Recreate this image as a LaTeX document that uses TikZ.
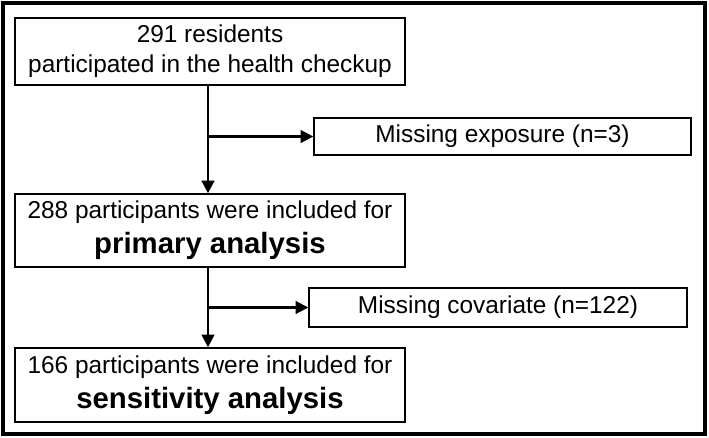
\documentclass[tikz,border=0pt]{standalone}
\usepackage{fontspec}
\setmainfont{Liberation Sans}
\usetikzlibrary{arrows.meta}
\tikzset{
  flowbox/.style={draw,line width=1.1pt,rectangle,align=center,inner sep=0pt,font=\fontsize{18.3}{22.5}\selectfont},
  flowline/.style={line width=1.6pt,-{Triangle[length=9.5pt,width=9.5pt]}}
}
\newcommand{\bigbold}[1]{{\fontsize{22}{24}\selectfont\bfseries #1}}
\begin{document}
\begin{tikzpicture}[x=0.75pt,y=-0.75pt]
\useasboundingbox (0,0) rectangle (709,437);
\draw[line width=2.4pt] (3,3) rectangle (705,434);
\node[flowbox,minimum width=390*0.75pt,minimum height=67*0.75pt] (top) at (210,51.5) {291 residents\\participated in the health checkup};
\node[flowbox,minimum width=377*0.75pt,minimum height=37*0.75pt] (excl1) at (502.5,136.5) {Missing exposure (n=3)};
\node[flowbox,minimum width=390*0.75pt,minimum height=73*0.75pt] (prim) at (210,230.5) {288 participants were included for\\[4pt]\bigbold{primary analysis}};
\node[flowbox,minimum width=378*0.75pt,minimum height=39*0.75pt] (excl2) at (498,307.5) {Missing covariate (n=122)};
\node[flowbox,minimum width=390*0.75pt,minimum height=74*0.75pt] (sens) at (210,385) {166 participants were included for\\[4pt]\bigbold{sensitivity analysis}};
% main flow
\draw[flowline] ([xshift=-1.5pt]top.south) -- ([xshift=-1.5pt]prim.north);
\draw[flowline] ([xshift=-1.5pt]prim.south) -- ([xshift=-1.5pt]sens.north);
% exclusions
\draw[flowline] ([xshift=-1.5pt]top.south |- excl1.west) -- (excl1.west);
\draw[flowline] ([xshift=-1.5pt]prim.south |- excl2.west) -- (excl2.west);
\end{tikzpicture}
\end{document}
